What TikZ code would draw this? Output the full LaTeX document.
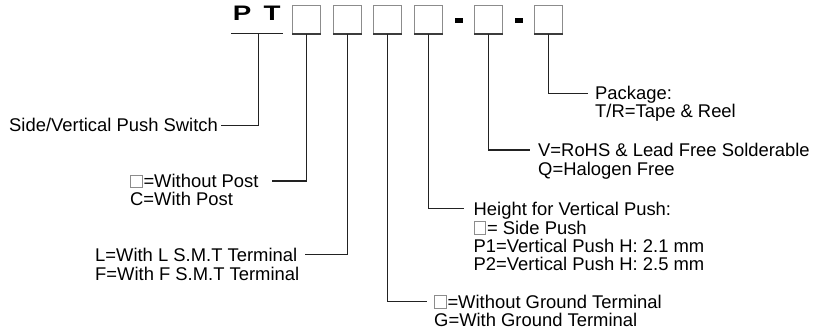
\documentclass[tikz,border=0pt]{standalone}
\usepackage{fontspec}
\setmainfont{Liberation Sans}
\usepackage{tikz}
\usetikzlibrary{positioning, calc}
\usepackage{xcolor}
\definecolor{linegray}{RGB}{34, 34, 34}
\definecolor{boxgray}{RGB}{140, 140, 140}
\definecolor{boxdark}{RGB}{60, 60, 60}
\tikzset{
    code box/.style={
        rectangle,
        draw=boxgray,
        line width=0.9pt,
        fill=white,
        minimum width=28pt,
        minimum height=28.5pt,
        inner sep=0pt
    },
    dash box/.style={
        rectangle,
        fill=black,
        minimum width=8.5pt,
        minimum height=5pt,
        inner sep=0pt
    },
    label text/.style={
        anchor=base west,
        inner sep=0pt,
        align=left,
        text=black,
        font={\fontsize{18.4pt}{18.3pt}\selectfont}
    },
    conn/.style={
        draw=linegray,
        line width=1.2pt
    },
    sq line/.style={
        draw=boxgray,
        line width=0.8pt
    }
}
% little empty box used inside the labels
\newcommand{\emptysq}{\tikz[baseline=0pt]\draw[sq line] (0pt,0pt) rectangle (11.5pt,12.5pt);\kern1pt}

\begin{document}
\begin{tikzpicture}[x=1pt, y=-1pt]
\useasboundingbox (0,0) rectangle (814,334);

% === PART NUMBER ===
\node[anchor=base west, inner sep=0pt, xscale=1.32, transform shape,
      font={\fontsize{21pt}{24pt}\selectfont\bfseries}] (pt) at (232.6,21) {P\hspace{9.3pt}T};
\draw[conn] (231.3,33.5) -- (283,33.5);
\coordinate (ptu) at (258.8,33.5);

\node[code box] (b1) at (306.8,19.4) {};
\node[code box] (b2) at (347.3,19.4) {};
\node[code box] (b3) at (387.8,19.4) {};
\node[code box] (b4) at (428.3,19.4) {};
\node[dash box] (d1) at (458.8,20.8) {};
\node[code box] (b5) at (488.3,19.4) {};
\node[dash box] (d2) at (519.2,20.8) {};
\node[code box] (b6) at (548.3,19.4) {};

% darker bottom edges
\foreach \b in {b1,b2,b3,b4,b5,b6}
    \draw[draw=boxdark, line width=1.3pt] (\b.south west) -- (\b.south east);

% === DESCRIPTIONS ===  (base = last line)
\node[label text] (sw) at (9,132) {Side/Vertical Push Switch};
\node[label text] (post) at (130,205.8) {\emptysq=Without Post\\C=With Post};
\node[label text] (smt) at (95,280) {L=With L S.M.T Terminal\\F=With F S.M.T Terminal};
\node[label text] (gnd) at (434,326.6) {\emptysq=Without Ground Terminal\\G=With Ground Terminal};
\node[label text] (hgt) at (473.5,270.6) {Height for Vertical Push:\\\emptysq= Side Push\\P1=Vertical Push H: 2.1 mm\\P2=Vertical Push H: 2.5 mm};
\node[label text] (rohs) at (538,175.3) {V=RoHS \& Lead Free Solderable\\Q=Halogen Free};
\node[label text] (pkg) at (595,117.6) {Package:\\T/R=Tape \& Reel};

% line ends
\coordinate (e0) at (221,125.7);
\coordinate (e1) at (271.7,181);
\coordinate (e2) at (305,254.3);
\coordinate (e3) at (426.7,301.7);
\coordinate (e4) at (464,208.3);
\coordinate (e5) at (530,150);
\coordinate (e6) at (588,93.3);

% === CONNECTORS ===
\draw[conn] (ptu) |- (e0);
\draw[conn] (b1.south) |- (e1);
\draw[conn] (b2.south) |- (e2);
\draw[conn] (b3.south) |- (e3);
\draw[conn] (b4.south) |- (e4);
\draw[conn] (b5.south) |- (e5);
\draw[conn] (b6.south) |- (e6);

\end{tikzpicture}
\end{document}
